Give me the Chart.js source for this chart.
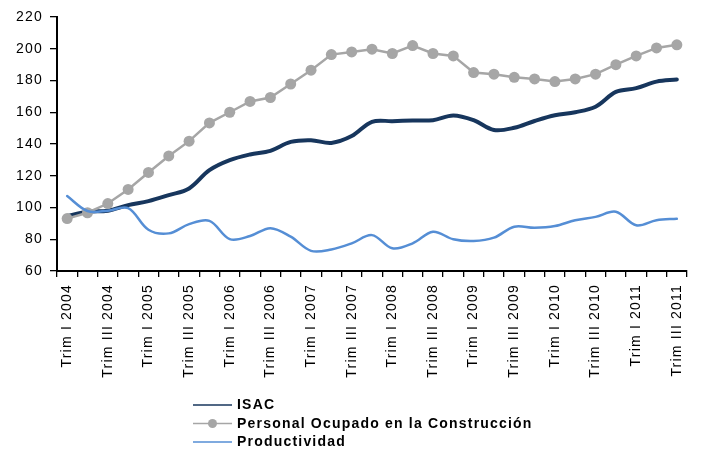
<!DOCTYPE html>
<html>
<head>
<meta charset="utf-8">
<script src="https://cdn.jsdelivr.net/npm/chart.js@4"></script>
<style>
  html, body { margin: 0; padding: 0; background: #fff; }
  canvas { display: block; }
</style>
</head>
<body>
<canvas id="c" width="701" height="453"></canvas>
<script>
// ---- data ----
const categories = [
  "Trim I 2004","Trim II 2004","Trim III 2004","Trim IV 2004",
  "Trim I 2005","Trim II 2005","Trim III 2005","Trim IV 2005",
  "Trim I 2006","Trim II 2006","Trim III 2006","Trim IV 2006",
  "Trim I 2007","Trim II 2007","Trim III 2007","Trim IV 2007",
  "Trim I 2008","Trim II 2008","Trim III 2008","Trim IV 2008",
  "Trim I 2009","Trim II 2009","Trim III 2009","Trim IV 2009",
  "Trim I 2010","Trim II 2010","Trim III 2010","Trim IV 2010",
  "Trim I 2011","Trim II 2011","Trim III 2011"
];
const isac = [94.6, 97.3, 98, 101.5, 104, 107.8, 112, 123.5, 129.8, 133.4, 135.7, 141.3, 142.4, 140.7, 145, 154,
              154.4, 154.8, 155, 158, 155, 148.8, 150.2, 154.5, 158.1, 160, 163.5, 172.8, 175.2, 179.3, 180.6];
const personal = [93, 96.7, 102.5, 111.4, 122.1, 132.5, 141.8, 153.3, 160, 166.8, 169.3, 177.8, 186.5, 196.3, 198, 199.7,
                  197, 202, 197, 195.5, 185, 184, 182, 181, 179.3, 181, 184, 190, 195.5, 200.5, 202.5];
const productividad = [107.2, 97.8, 98, 99.6, 86, 83.7, 89.5, 91.6, 80.1, 82, 87, 81.6, 72.7, 73.6, 77.4, 82.6,
                       74.3, 77.4, 84.7, 80, 78.9, 81, 87.9, 87.2, 88.3, 92, 94.1, 97.3, 88.8, 92, 92.9];
const yTicks = [60, 80, 100, 120, 140, 160, 180, 200, 220];
const seriesNames = ["ISAC", "Personal Ocupado en la Construcción", "Productividad"];

// ---- styles ----
const FONT = '"Liberation Sans", Arial, sans-serif';
const SPACING = '1.2px';
const legendLineWidths = [1.3, 1.6, 1.6];

const spacingPlugin = {
  id: 'spacing',
  beforeUpdate(c) { c.ctx.letterSpacing = SPACING; },
  beforeLayout(c) { c.ctx.letterSpacing = SPACING; },
  beforeDraw(c) { c.ctx.letterSpacing = SPACING; }
};

const legendPlugin = {
  id: 'customLegend',
  afterDraw(c) {
    const ctx = c.ctx;
    ctx.save();
    ctx.letterSpacing = SPACING;
    ctx.font = 'bold 14px ' + FONT;
    ctx.textBaseline = 'middle';
    ctx.textAlign = 'left';
    const rows = [405, 423.5, 442];
    c.data.datasets.forEach((ds, i) => {
      const y = rows[i];
      ctx.strokeStyle = ds.borderColor;
      ctx.lineWidth = legendLineWidths[i];
      ctx.beginPath();
      ctx.moveTo(193, y);
      ctx.lineTo(232, y);
      ctx.stroke();
      if (ds.pointRadius > 0) {
        ctx.fillStyle = ds.pointBackgroundColor;
        ctx.beginPath();
        ctx.arc(212.5, y, 4.5, 0, Math.PI * 2);
        ctx.fill();
      }
      ctx.fillStyle = '#000';
      ctx.fillText(ds.label, 237, y + 0.5);
    });
    ctx.restore();
  }
};

new Chart(document.getElementById('c'), {
  type: 'line',
  data: {
    labels: categories,
    datasets: [
      {
        label: seriesNames[0], data: isac, order: 3,
        borderColor: '#17365D', borderWidth: 4, pointRadius: 0, tension: 0.35,
        borderCapStyle: 'round', borderJoinStyle: 'round'
      },
      {
        label: seriesNames[1], data: personal, order: 2,
        borderColor: '#A6A6A6', borderWidth: 2.5, tension: 0,
        pointRadius: 5.5, pointBackgroundColor: '#A6A6A6', pointBorderWidth: 0, pointHoverRadius: 5.5
      },
      {
        label: seriesNames[2], data: productividad, order: 1,
        borderColor: '#558ED5', borderWidth: 2.5, pointRadius: 0, tension: 0.35,
        borderCapStyle: 'round', borderJoinStyle: 'round'
      }
    ]
  },
  options: {
    responsive: false,
    animation: false,
    devicePixelRatio: 1,
    layout: { padding: { top: 17, right: 14, bottom: 0, left: 0 } },
    plugins: { legend: { display: false }, tooltip: { enabled: false }, title: { display: false } },
    scales: {
      x: {
        type: 'category',
        offset: true,
        grid: { offset: true, drawOnChartArea: false, drawTicks: true, tickLength: 6, color: '#000', lineWidth: 1.3 },
        border: { display: true, color: '#000', width: 2 },
        ticks: {
          autoSkip: false, maxRotation: 90, minRotation: 90, padding: 7,
          color: '#000', font: { family: FONT, size: 14 },
          callback: function (v, i) { return i % 2 === 0 ? this.getLabelForValue(v) : ''; }
        },
        afterFit(s) { s.height = 182; }
      },
      y: {
        min: 60, max: 220,
        afterBuildTicks(s) { s.ticks = yTicks.map(v => ({ value: v })); },
        grid: { drawOnChartArea: false, drawTicks: true, tickLength: 7, color: '#000', lineWidth: 1.3 },
        border: { display: true, color: '#000', width: 2 },
        ticks: { padding: 7, color: '#000', font: { family: FONT, size: 14 } },
        afterFit(s) { s.width = 57; }
      }
    }
  },
  plugins: [spacingPlugin, legendPlugin]
});
</script>
</body>
</html>
